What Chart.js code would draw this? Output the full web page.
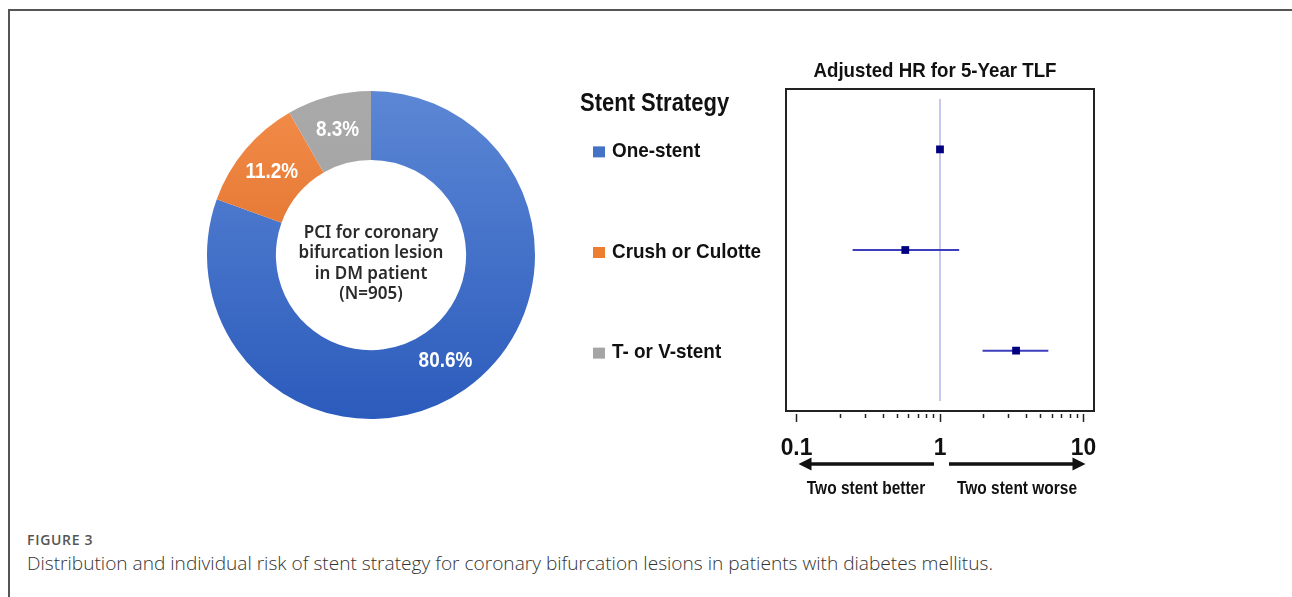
<!DOCTYPE html>
<html>
<head>
<meta charset="utf-8">
<script src="https://cdn.jsdelivr.net/npm/chart.js@4.4.0/dist/chart.umd.min.js"></script>
<style>
  html, body { margin: 0; padding: 0; background: #fff; }
  body { width: 1292px; height: 597px; position: relative; overflow: hidden; font-family: "Liberation Sans", Arial, sans-serif; }
  #frame { position: absolute; left: 8px; top: 9px; width: 1300px; height: 600px; border-left: 2px solid #555; border-top: 2px solid #555; }
  #donutWrap { position: absolute; left: 207px; top: 91px; width: 328px; height: 328px; }
  #forestWrap { position: absolute; left: 560px; top: 40px; width: 550px; height: 470px; }
  .cap-label { position: absolute; left: 27px; top: 531px; font-family: "Open Sans", sans-serif; font-size: 14px; font-weight: 600; color: #555; letter-spacing: 0.7px; line-height: 18px; }
  .cap-text { position: absolute; left: 27px; top: 550px; font-family: "Open Sans", sans-serif; font-size: 19.1px; font-weight: 300; color: #333; line-height: 26px; white-space: nowrap; }
</style>
</head>
<body>
<div id="frame"></div>
<div id="donutWrap"><canvas id="donut" width="328" height="328"></canvas></div>
<div id="forestWrap"><canvas id="forest" width="550" height="470"></canvas></div>
<div class="cap-label">FIGURE 3</div>
<div class="cap-text">Distribution and individual risk of stent strategy for coronary bifurcation lesions in patients with diabetes mellitus.</div>

<script>
// data
const categories = ['One-stent', 'Crush or Culotte', 'T- or V-stent'];
const sharePct = [80.6, 11.2, 8.3];
const hrPoint = [1, 0.573, 3.39];
const hrLow = [null, 0.246, 1.98];
const hrHigh = [null, 1.36, 5.69];
const xTickValues = [0.1, 0.2, 0.3, 0.4, 0.5, 0.6, 0.7, 0.8, 0.9, 1, 2, 3, 4, 5, 6, 7, 8, 9, 10];
const xTickLabels = ['0.1', '1', '10'];
const centerLines = ['PCI for coronary', 'bifurcation lesion', 'in DM patient', '(N=905)'];

const legendColors = ['#4472C4', '#ED7D31', '#A5A5A5'];

// the figure uses a condensed bold face, so squeeze Liberation Sans a bit
function narrowText(ctx, text, x, y, size, sx) {
  ctx.save();
  ctx.font = 'bold ' + size + 'px "Liberation Sans", Arial, sans-serif';
  ctx.translate(x, y);
  ctx.scale(sx, 1);
  ctx.fillText(text, 0, 0);
  ctx.restore();
}

// donut -------------------------------------------------------------
const sliceFill = (ctx) => {
  const area = ctx.chart.chartArea;
  const i = ctx.dataIndex;
  if (!area) return legendColors[i];
  const g = ctx.chart.ctx.createLinearGradient(0, area.top, 0, area.bottom);
  if (i === 0) { g.addColorStop(0, '#5c87d5'); g.addColorStop(1, '#2b5bbc'); }
  else if (i === 1) { g.addColorStop(0, '#f48d4a'); g.addColorStop(1, '#d0601a'); }
  else { g.addColorStop(0, '#a9a9a9'); g.addColorStop(1, '#9e9e9e'); }
  return g;
};

const donutLabels = {
  id: 'donutLabels',
  afterDatasetsDraw(chart) {
    const ctx = chart.ctx;
    const meta = chart.getDatasetMeta(0);
    ctx.save();
    ctx.fillStyle = '#fff';
    ctx.textAlign = 'center';
    ctx.textBaseline = 'middle';
    meta.data.forEach((arc, i) => {
      const p = arc.tooltipPosition();
      narrowText(ctx, sharePct[i].toFixed(1) + '%', p.x, p.y, 22, 0.86);
    });
    // text in the hole
    const cx = (chart.chartArea.left + chart.chartArea.right) / 2;
    const cy = (chart.chartArea.top + chart.chartArea.bottom) / 2;
    ctx.fillStyle = '#2a2a2a';
    ctx.font = '600 17px "Noto Sans", sans-serif';
    centerLines.forEach((t, k) => ctx.fillText(t, cx, cy - 22 + k * 20.5));
    ctx.restore();
  }
};

new Chart(document.getElementById('donut'), {
  type: 'doughnut',
  data: {
    labels: categories,
    datasets: [{ data: sharePct, backgroundColor: sliceFill, borderWidth: 0 }]
  },
  options: {
    responsive: false,
    animation: false,
    cutout: '58%',
    plugins: { legend: { display: false }, tooltip: { enabled: false } }
  },
  plugins: [donutLabels]
});

// forest plot -------------------------------------------------------
const forestDeco = {
  id: 'forestDeco',
  beforeDatasetsDraw(chart) {
    const { ctx, chartArea: a } = chart;
    ctx.save();
    ctx.strokeStyle = '#222';
    ctx.lineWidth = 2;
    ctx.strokeRect(a.left, a.top, a.right - a.left, a.bottom - a.top);
    ctx.restore();
  },
  afterDraw(chart) {
    const { ctx, chartArea: a } = chart;
    const xs = chart.scales.x, ys = chart.scales.y;
    ctx.save();
    // title
    ctx.fillStyle = '#111';
    ctx.textAlign = 'center';
    ctx.textBaseline = 'middle';
    narrowText(ctx, 'Adjusted HR for 5-Year TLF', (a.left + a.right) / 2 - 5, a.top - 18, 21, 0.89);

    // axis ticks
    ctx.strokeStyle = '#222';
    ctx.lineWidth = 1.5;
    xTickValues.forEach(v => {
      const x = Math.round(xs.getPixelForValue(v)) + 0.5;
      const major = xTickLabels.includes(String(v));
      ctx.beginPath();
      ctx.moveTo(x, a.bottom + 3);
      ctx.lineTo(x, a.bottom + (major ? 11 : 7));
      ctx.stroke();
    });
    xTickLabels.forEach(l => narrowText(ctx, l, xs.getPixelForValue(Number(l)), a.bottom + 37, 24, 0.95));

    // arrows
    const one = xs.getPixelForValue(1);
    const lo = xs.getPixelForValue(0.1), hi = xs.getPixelForValue(10);
    const ay = a.bottom + 53;
    ctx.fillStyle = '#111';
    ctx.strokeStyle = '#111';
    ctx.lineWidth = 3.5;
    const arrow = (x0, x1) => {
      const dir = Math.sign(x1 - x0);
      ctx.beginPath();
      ctx.moveTo(x0, ay);
      ctx.lineTo(x1 - dir * 8, ay);
      ctx.stroke();
      ctx.beginPath();
      ctx.moveTo(x1, ay);
      ctx.lineTo(x1 - dir * 13, ay - 6.5);
      ctx.lineTo(x1 - dir * 13, ay + 6.5);
      ctx.closePath();
      ctx.fill();
    };
    arrow(one - 6, lo + 2);
    arrow(one + 9, hi + 2);
    narrowText(ctx, 'Two stent better', one - 74, ay + 25, 18, 0.86);
    narrowText(ctx, 'Two stent worse', one + 77, ay + 25, 18, 0.86);

    // legend on the left, rows follow the y scale
    ctx.textAlign = 'left';
    narrowText(ctx, 'Stent Strategy', 20, 64, 25, 0.88);
    categories.forEach((c, i) => {
      const y = ys.getPixelForValue(i + 1);
      ctx.fillStyle = legendColors[i];
      ctx.fillRect(33, y - 3, 12, 11);
      ctx.fillStyle = '#111';
      narrowText(ctx, c, 52, y + 2, 21, 0.9);
    });
    ctx.restore();
  }
};

const ciSets = [];
categories.forEach((c, i) => {
  if (hrLow[i] === null) return;
  ciSets.push({
    label: c + ' CI',
    order: 1,
    data: [{ x: hrLow[i], y: i + 1 }, { x: hrHigh[i], y: i + 1 }],
    showLine: true, borderColor: '#3d3dbd', borderWidth: 2, pointRadius: 0
  });
});

new Chart(document.getElementById('forest'), {
  type: 'scatter',
  data: {
    datasets: [
      {
        label: 'HR = 1',
        order: 2,
        data: [{ x: 1, y: 0.5 }, { x: 1, y: 3.5 }],
        showLine: true, borderColor: '#a3a3e4', borderWidth: 1.2, pointRadius: 0
      },
      ...ciSets,
      {
        label: 'HR',
        order: 0,
        data: categories.map((c, i) => ({ x: hrPoint[i], y: i + 1 })),
        pointStyle: 'rect', pointRadius: 5.5, backgroundColor: '#000080', borderWidth: 0
      }
    ]
  },
  options: {
    responsive: false,
    animation: false,
    layout: { padding: { left: 226, top: 49, right: 16, bottom: 99 } },
    scales: {
      x: { type: 'logarithmic', min: 0.0845, max: 11.84, display: false },
      y: { type: 'linear', min: 0.4, max: 3.6, reverse: true, display: false }
    },
    plugins: { legend: { display: false }, tooltip: { enabled: false } }
  },
  plugins: [forestDeco]
});
</script>
</body>
</html>
